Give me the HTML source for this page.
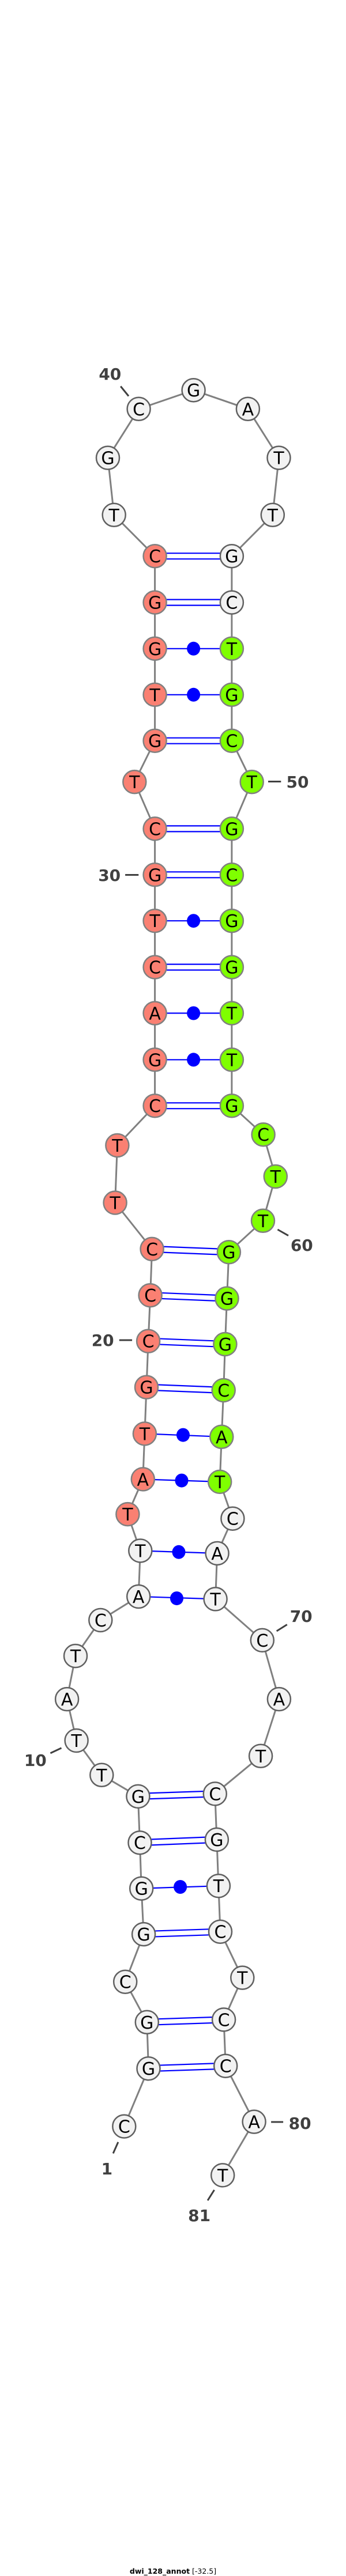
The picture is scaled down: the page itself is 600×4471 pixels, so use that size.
<!DOCTYPE html>
<html><head><meta charset="utf-8"><style>
html,body{margin:0;padding:0;background:#fff;}
svg{display:block;}
.n{stroke:#606060;stroke-width:2.5;}
.g{fill:#f2f2f2;}
.r{fill:#fa8072;stroke:#808080;}
.v{fill:#7fff00;stroke:#808080;}
.t{font-family:"DejaVu Sans","Liberation Sans",sans-serif;font-size:30px;text-anchor:middle;fill:#000;}
.l{font-family:"DejaVu Sans","Liberation Sans",sans-serif;font-size:28px;font-weight:bold;fill:#404040;}
.tk{stroke:#404040;stroke-width:3;}
.bp{stroke:#0000ff;stroke-width:2.2;}
</style></head><body>
<svg width="600" height="4471" viewBox="0 0 600 4471" xmlns="http://www.w3.org/2000/svg">
<polyline fill="none" stroke="#808080" stroke-width="3" points="215.3,3690.6 257.5,3590.2 254.8,3509.8 217.2,3439.7 249.1,3357.1 245.2,3277.7 242.5,3198.2 239.4,3117.9 176.3,3080.8 132.6,3021 116.1,2949.1 131,2874.1 174.3,2812 240.2,2771 243.3,2691.5 221.4,2628.1 247.8,2567.4 250.9,2488.4 254,2407.6 257.1,2327.7 260.6,2248.2 263.6,2167.9 199.6,2087.5 203.4,1988 268.6,1919.2 268.6,1839.3 268.6,1758.5 268.6,1678.6 268.6,1598.2 268.6,1518.3 268.6,1438.4 233.3,1357.1 268.6,1285.7 268.6,1205.8 268.6,1125.8 268.6,1045.6 268.6,965.2 197.7,893.8 187,794.6 240.6,709.8 335.6,677.2 429.9,709.8 483.5,794.6 472.8,893.8 401.9,965.2 401.9,1045.6 401.9,1125.8 401.9,1205.8 401.9,1285.7 436.7,1357.1 401.9,1438.4 401.9,1518.3 401.9,1598.2 401.9,1678.6 401.9,1758.5 401.9,1839.3 401.9,1919.2 456.6,1969.2 477.8,2042 456,2118.8 396.9,2173.2 393.5,2253.6 390.4,2333 387.7,2413 384.3,2493.8 381.2,2571.9 403.4,2635.7 376.6,2696 373.6,2775.4 454.8,2846.9 483.9,2949.1 452.1,3047.8 372.8,3113.4 375.9,3192.9 378.9,3273.2 382,3352.7 420.3,3432.6 388.1,3505.4 391.2,3585.7 440.6,3682.6 386.2,3775.4"/>
<g class="bp">
<line x1="268.6" y1="960.2" x2="401.9" y2="960.2"/><line x1="268.6" y1="970.2" x2="401.9" y2="970.2"/>
<line x1="268.6" y1="1040.6" x2="401.9" y2="1040.6"/><line x1="268.6" y1="1050.6" x2="401.9" y2="1050.6"/>
<line x1="268.6" y1="1280.7" x2="401.9" y2="1280.7"/><line x1="268.6" y1="1290.7" x2="401.9" y2="1290.7"/>
<line x1="268.6" y1="1433.4" x2="401.9" y2="1433.4"/><line x1="268.6" y1="1443.4" x2="401.9" y2="1443.4"/>
<line x1="268.6" y1="1513.3" x2="401.9" y2="1513.3"/><line x1="268.6" y1="1523.3" x2="401.9" y2="1523.3"/>
<line x1="268.6" y1="1673.6" x2="401.9" y2="1673.6"/><line x1="268.6" y1="1683.6" x2="401.9" y2="1683.6"/>
<line x1="268.6" y1="1914.2" x2="401.9" y2="1914.2"/><line x1="268.6" y1="1924.2" x2="401.9" y2="1924.2"/>
<line x1="263.6" y1="2162.9" x2="396.9" y2="2168.2"/><line x1="263.6" y1="2172.9" x2="396.9" y2="2178.2"/>
<line x1="260.6" y1="2243.2" x2="393.5" y2="2248.6"/><line x1="260.6" y1="2253.2" x2="393.5" y2="2258.6"/>
<line x1="257.1" y1="2322.7" x2="390.4" y2="2328"/><line x1="257.1" y1="2332.7" x2="390.4" y2="2338"/>
<line x1="254" y1="2402.6" x2="387.7" y2="2408"/><line x1="254" y1="2412.6" x2="387.7" y2="2418"/>
<line x1="239.4" y1="3122.9" x2="372.8" y2="3118.4"/><line x1="239.4" y1="3112.9" x2="372.8" y2="3108.4"/>
<line x1="242.5" y1="3203.2" x2="375.9" y2="3197.9"/><line x1="242.5" y1="3193.2" x2="375.9" y2="3187.9"/>
<line x1="249.1" y1="3362.1" x2="382" y2="3357.7"/><line x1="249.1" y1="3352.1" x2="382" y2="3347.7"/>
<line x1="254.8" y1="3514.8" x2="388.1" y2="3510.4"/><line x1="254.8" y1="3504.8" x2="388.1" y2="3500.4"/>
<line x1="257.5" y1="3595.2" x2="391.2" y2="3590.7"/><line x1="257.5" y1="3585.2" x2="391.2" y2="3580.7"/>
<line x1="268.6" y1="1125.8" x2="401.9" y2="1125.8"/>
<line x1="268.6" y1="1205.8" x2="401.9" y2="1205.8"/>
<line x1="268.6" y1="1598.2" x2="401.9" y2="1598.2"/>
<line x1="268.6" y1="1758.5" x2="401.9" y2="1758.5"/>
<line x1="268.6" y1="1839.3" x2="401.9" y2="1839.3"/>
<line x1="250.9" y1="2488.4" x2="384.3" y2="2493.8"/>
<line x1="247.8" y1="2567.4" x2="381.2" y2="2571.9"/>
<line x1="243.3" y1="2691.5" x2="376.6" y2="2696"/>
<line x1="240.2" y1="2771" x2="373.6" y2="2775.4"/>
<line x1="245.2" y1="3277.7" x2="378.9" y2="3273.2"/>
</g>
<g fill="#0000ff">
<ellipse cx="335.6" cy="1125.8" rx="11.5" ry="12"/>
<ellipse cx="335.6" cy="1205.8" rx="11.5" ry="12"/>
<ellipse cx="335.6" cy="1598.2" rx="11.5" ry="12"/>
<ellipse cx="335.6" cy="1758.5" rx="11.5" ry="12"/>
<ellipse cx="335.6" cy="1839.3" rx="11.5" ry="12"/>
<ellipse cx="317.5" cy="2490.6" rx="11.5" ry="12"/>
<ellipse cx="315" cy="2569.6" rx="11.5" ry="12"/>
<ellipse cx="310" cy="2693.8" rx="11.5" ry="12"/>
<ellipse cx="306.5" cy="2774.1" rx="11.5" ry="12"/>
<ellipse cx="312.6" cy="3275" rx="11.5" ry="12"/>
</g>
<g>
<ellipse class="n g" cx="215.3" cy="3690.6" rx="20" ry="20"/><text class="t" x="215.3" y="3701.6">C</text>
<ellipse class="n g" cx="257.5" cy="3590.2" rx="20" ry="20"/><text class="t" x="257.5" y="3601.2">G</text>
<ellipse class="n g" cx="254.8" cy="3509.8" rx="20" ry="20"/><text class="t" x="254.8" y="3520.8">G</text>
<ellipse class="n g" cx="217.2" cy="3439.7" rx="20" ry="20"/><text class="t" x="217.2" y="3450.7">C</text>
<ellipse class="n g" cx="249.1" cy="3357.1" rx="20" ry="20"/><text class="t" x="249.1" y="3368.1">G</text>
<ellipse class="n g" cx="245.2" cy="3277.7" rx="20" ry="20"/><text class="t" x="245.2" y="3288.7">G</text>
<ellipse class="n g" cx="242.5" cy="3198.2" rx="20" ry="20"/><text class="t" x="242.5" y="3209.2">C</text>
<ellipse class="n g" cx="239.4" cy="3117.9" rx="20" ry="20"/><text class="t" x="239.4" y="3128.9">G</text>
<ellipse class="n g" cx="176.3" cy="3080.8" rx="20" ry="20"/><text class="t" x="176.3" y="3091.8">T</text>
<ellipse class="n g" cx="132.6" cy="3021" rx="20" ry="20"/><text class="t" x="132.6" y="3032">T</text>
<ellipse class="n g" cx="116.1" cy="2949.1" rx="20" ry="20"/><text class="t" x="116.1" y="2960.1">A</text>
<ellipse class="n g" cx="131" cy="2874.1" rx="20" ry="20"/><text class="t" x="131" y="2885.1">T</text>
<ellipse class="n g" cx="174.3" cy="2812" rx="20" ry="20"/><text class="t" x="174.3" y="2823">C</text>
<ellipse class="n g" cx="240.2" cy="2771" rx="20" ry="20"/><text class="t" x="240.2" y="2782">A</text>
<ellipse class="n g" cx="243.3" cy="2691.5" rx="20" ry="20"/><text class="t" x="243.3" y="2702.5">T</text>
<ellipse class="n r" cx="221.4" cy="2628.1" rx="20" ry="20"/><text class="t" x="221.4" y="2639.1">T</text>
<ellipse class="n r" cx="247.8" cy="2567.4" rx="20" ry="20"/><text class="t" x="247.8" y="2578.4">A</text>
<ellipse class="n r" cx="250.9" cy="2488.4" rx="20" ry="20"/><text class="t" x="250.9" y="2499.4">T</text>
<ellipse class="n r" cx="254" cy="2407.6" rx="20" ry="20"/><text class="t" x="254" y="2418.6">G</text>
<ellipse class="n r" cx="257.1" cy="2327.7" rx="20" ry="20"/><text class="t" x="257.1" y="2338.7">C</text>
<ellipse class="n r" cx="260.6" cy="2248.2" rx="20" ry="20"/><text class="t" x="260.6" y="2259.2">C</text>
<ellipse class="n r" cx="263.6" cy="2167.9" rx="20" ry="20"/><text class="t" x="263.6" y="2178.9">C</text>
<ellipse class="n r" cx="199.6" cy="2087.5" rx="20" ry="20"/><text class="t" x="199.6" y="2098.5">T</text>
<ellipse class="n r" cx="203.4" cy="1988" rx="20" ry="20"/><text class="t" x="203.4" y="1999">T</text>
<ellipse class="n r" cx="268.6" cy="1919.2" rx="20" ry="20"/><text class="t" x="268.6" y="1930.2">C</text>
<ellipse class="n r" cx="268.6" cy="1839.3" rx="20" ry="20"/><text class="t" x="268.6" y="1850.3">G</text>
<ellipse class="n r" cx="268.6" cy="1758.5" rx="20" ry="20"/><text class="t" x="268.6" y="1769.5">A</text>
<ellipse class="n r" cx="268.6" cy="1678.6" rx="20" ry="20"/><text class="t" x="268.6" y="1689.6">C</text>
<ellipse class="n r" cx="268.6" cy="1598.2" rx="20" ry="20"/><text class="t" x="268.6" y="1609.2">T</text>
<ellipse class="n r" cx="268.6" cy="1518.3" rx="20" ry="20"/><text class="t" x="268.6" y="1529.3">G</text>
<ellipse class="n r" cx="268.6" cy="1438.4" rx="20" ry="20"/><text class="t" x="268.6" y="1449.4">C</text>
<ellipse class="n r" cx="233.3" cy="1357.1" rx="20" ry="20"/><text class="t" x="233.3" y="1368.1">T</text>
<ellipse class="n r" cx="268.6" cy="1285.7" rx="20" ry="20"/><text class="t" x="268.6" y="1296.7">G</text>
<ellipse class="n r" cx="268.6" cy="1205.8" rx="20" ry="20"/><text class="t" x="268.6" y="1216.8">T</text>
<ellipse class="n r" cx="268.6" cy="1125.8" rx="20" ry="20"/><text class="t" x="268.6" y="1136.8">G</text>
<ellipse class="n r" cx="268.6" cy="1045.6" rx="20" ry="20"/><text class="t" x="268.6" y="1056.6">G</text>
<ellipse class="n r" cx="268.6" cy="965.2" rx="20" ry="20"/><text class="t" x="268.6" y="976.2">C</text>
<ellipse class="n g" cx="197.7" cy="893.8" rx="20" ry="20"/><text class="t" x="197.7" y="904.8">T</text>
<ellipse class="n g" cx="187" cy="794.6" rx="20" ry="20"/><text class="t" x="187" y="805.6">G</text>
<ellipse class="n g" cx="240.6" cy="709.8" rx="20" ry="20"/><text class="t" x="240.6" y="720.8">C</text>
<ellipse class="n g" cx="335.6" cy="677.2" rx="20" ry="20"/><text class="t" x="335.6" y="688.2">G</text>
<ellipse class="n g" cx="429.9" cy="709.8" rx="20" ry="20"/><text class="t" x="429.9" y="720.8">A</text>
<ellipse class="n g" cx="483.5" cy="794.6" rx="20" ry="20"/><text class="t" x="483.5" y="805.6">T</text>
<ellipse class="n g" cx="472.8" cy="893.8" rx="20" ry="20"/><text class="t" x="472.8" y="904.8">T</text>
<ellipse class="n g" cx="401.9" cy="965.2" rx="20" ry="20"/><text class="t" x="401.9" y="976.2">G</text>
<ellipse class="n g" cx="401.9" cy="1045.6" rx="20" ry="20"/><text class="t" x="401.9" y="1056.6">C</text>
<ellipse class="n v" cx="401.9" cy="1125.8" rx="20" ry="20"/><text class="t" x="401.9" y="1136.8">T</text>
<ellipse class="n v" cx="401.9" cy="1205.8" rx="20" ry="20"/><text class="t" x="401.9" y="1216.8">G</text>
<ellipse class="n v" cx="401.9" cy="1285.7" rx="20" ry="20"/><text class="t" x="401.9" y="1296.7">C</text>
<ellipse class="n v" cx="436.7" cy="1357.1" rx="20" ry="20"/><text class="t" x="436.7" y="1368.1">T</text>
<ellipse class="n v" cx="401.9" cy="1438.4" rx="20" ry="20"/><text class="t" x="401.9" y="1449.4">G</text>
<ellipse class="n v" cx="401.9" cy="1518.3" rx="20" ry="20"/><text class="t" x="401.9" y="1529.3">C</text>
<ellipse class="n v" cx="401.9" cy="1598.2" rx="20" ry="20"/><text class="t" x="401.9" y="1609.2">G</text>
<ellipse class="n v" cx="401.9" cy="1678.6" rx="20" ry="20"/><text class="t" x="401.9" y="1689.6">G</text>
<ellipse class="n v" cx="401.9" cy="1758.5" rx="20" ry="20"/><text class="t" x="401.9" y="1769.5">T</text>
<ellipse class="n v" cx="401.9" cy="1839.3" rx="20" ry="20"/><text class="t" x="401.9" y="1850.3">T</text>
<ellipse class="n v" cx="401.9" cy="1919.2" rx="20" ry="20"/><text class="t" x="401.9" y="1930.2">G</text>
<ellipse class="n v" cx="456.6" cy="1969.2" rx="20" ry="20"/><text class="t" x="456.6" y="1980.2">C</text>
<ellipse class="n v" cx="477.8" cy="2042" rx="20" ry="20"/><text class="t" x="477.8" y="2053">T</text>
<ellipse class="n v" cx="456" cy="2118.8" rx="20" ry="20"/><text class="t" x="456" y="2129.8">T</text>
<ellipse class="n v" cx="396.9" cy="2173.2" rx="20" ry="20"/><text class="t" x="396.9" y="2184.2">G</text>
<ellipse class="n v" cx="393.5" cy="2253.6" rx="20" ry="20"/><text class="t" x="393.5" y="2264.6">G</text>
<ellipse class="n v" cx="390.4" cy="2333" rx="20" ry="20"/><text class="t" x="390.4" y="2344">G</text>
<ellipse class="n v" cx="387.7" cy="2413" rx="20" ry="20"/><text class="t" x="387.7" y="2424">C</text>
<ellipse class="n v" cx="384.3" cy="2493.8" rx="20" ry="20"/><text class="t" x="384.3" y="2504.8">A</text>
<ellipse class="n v" cx="381.2" cy="2571.9" rx="20" ry="20"/><text class="t" x="381.2" y="2582.9">T</text>
<ellipse class="n g" cx="403.4" cy="2635.7" rx="20" ry="20"/><text class="t" x="403.4" y="2646.7">C</text>
<ellipse class="n g" cx="376.6" cy="2696" rx="20" ry="20"/><text class="t" x="376.6" y="2707">A</text>
<ellipse class="n g" cx="373.6" cy="2775.4" rx="20" ry="20"/><text class="t" x="373.6" y="2786.4">T</text>
<ellipse class="n g" cx="454.8" cy="2846.9" rx="20" ry="20"/><text class="t" x="454.8" y="2857.9">C</text>
<ellipse class="n g" cx="483.9" cy="2949.1" rx="20" ry="20"/><text class="t" x="483.9" y="2960.1">A</text>
<ellipse class="n g" cx="452.1" cy="3047.8" rx="20" ry="20"/><text class="t" x="452.1" y="3058.8">T</text>
<ellipse class="n g" cx="372.8" cy="3113.4" rx="20" ry="20"/><text class="t" x="372.8" y="3124.4">C</text>
<ellipse class="n g" cx="375.9" cy="3192.9" rx="20" ry="20"/><text class="t" x="375.9" y="3203.9">G</text>
<ellipse class="n g" cx="378.9" cy="3273.2" rx="20" ry="20"/><text class="t" x="378.9" y="3284.2">T</text>
<ellipse class="n g" cx="382" cy="3352.7" rx="20" ry="20"/><text class="t" x="382" y="3363.7">C</text>
<ellipse class="n g" cx="420.3" cy="3432.6" rx="20" ry="20"/><text class="t" x="420.3" y="3443.6">T</text>
<ellipse class="n g" cx="388.1" cy="3505.4" rx="20" ry="20"/><text class="t" x="388.1" y="3516.4">C</text>
<ellipse class="n g" cx="391.2" cy="3585.7" rx="20" ry="20"/><text class="t" x="391.2" y="3596.7">C</text>
<ellipse class="n g" cx="440.6" cy="3682.6" rx="20" ry="20"/><text class="t" x="440.6" y="3693.6">A</text>
<ellipse class="n g" cx="386.2" cy="3775.4" rx="20" ry="20"/><text class="t" x="386.2" y="3786.4">T</text>
</g>
<g class="tk">
<line x1="209.2" y1="670.5" x2="223" y2="687.5"/>
<line x1="465" y1="1356.5" x2="487.3" y2="1356.5"/>
<line x1="217.1" y1="1518.5" x2="240.3" y2="1518.5"/>
<line x1="481.4" y1="2134" x2="500" y2="2144.6"/>
<line x1="206.8" y1="2326" x2="229.1" y2="2326"/>
<line x1="479.7" y1="2831" x2="497.8" y2="2819.6"/>
<line x1="87.4" y1="3042.9" x2="106.5" y2="3033.9"/>
<line x1="470.1" y1="3683" x2="491.1" y2="3683"/>
<line x1="204.9" y1="3717.9" x2="196.2" y2="3737.5"/>
<line x1="371.6" y1="3800.9" x2="360.1" y2="3819.2"/>
</g>
<g class="l" text-anchor="middle">
<text x="190.8" y="659">40</text>
<text x="516" y="1367">50</text>
<text x="189.7" y="1529">30</text>
<text x="523.3" y="2171">60</text>
<text x="178.2" y="2336">20</text>
<text x="522.2" y="2815">70</text>
<text x="61.3" y="3065">10</text>
<text x="520.1" y="3695">80</text>
<text x="185.4" y="3774">1</text>
<text x="345.6" y="3855">81</text>
</g>
<text x="300" y="4467" text-anchor="middle" style="font-family:'DejaVu Sans','Liberation Sans',sans-serif;font-size:12.5px;fill:#000"><tspan font-weight="bold">dwi_128_annot</tspan> [-32.5]</text>
</svg>
</body></html>
